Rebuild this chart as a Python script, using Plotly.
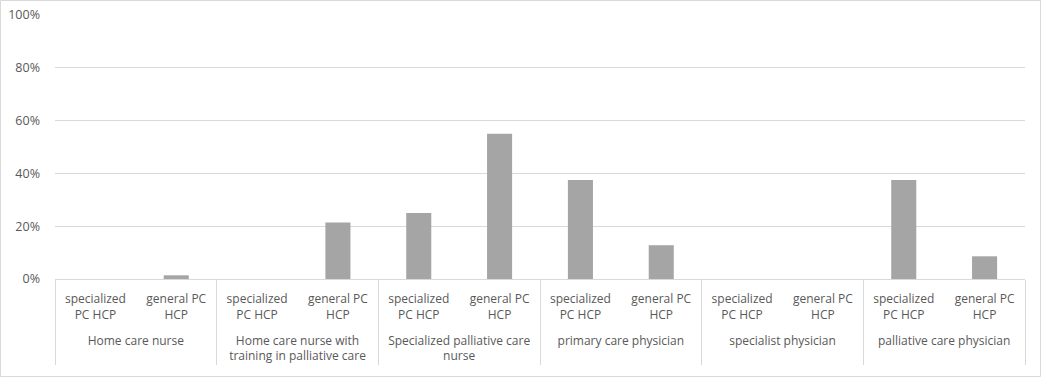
import plotly.graph_objects as go

groups = ["<br>Home care nurse", "<br>Home care nurse with<br>training in palliative care",
          "<br>Specialized palliative care<br>nurse", "<br>primary care physician",
          "<br>specialist physician", "<br>palliative care physician"]
subcats = ["specialized<br>PC HCP", "general PC<br>HCP"]
specialized = [0.0, 0.0, 0.25, 0.375, 0.0, 0.375]
general = [0.014, 0.214, 0.55, 0.128, 0.0, 0.086]

outer, inner, vals = [], [], []
for g, s, ge in zip(groups, specialized, general):
    outer += [g, g]
    inner += subcats
    vals += [s, ge]

W, H = 1041, 377
ml, mr, mt, mb = 55, 16, 15, 98
pw, ph = W - ml - mr, H - mt - mb

fig = go.Figure(go.Bar(x=[outer, inner], y=vals, marker_color="#A5A5A5",
                       marker_line_width=0))

def px_to_paper_x(p):
    return (p - ml) / pw

def px_to_paper_y(p):
    return (H - mb - p) / ph

fig.update_layout(
    width=W, height=H,
    margin=dict(l=ml, r=mr, t=mt, b=mb, autoexpand=False),
    plot_bgcolor="white", paper_bgcolor="white",
    bargap=0.69,
    showlegend=False,
    font=dict(family="Open Sans", size=12, color="#595959"),
    yaxis=dict(range=[0, 1], tickvals=[0, 0.2, 0.4, 0.6, 0.8, 1.0],
               tickformat=".0%", gridcolor="#D9D9D9", gridwidth=1,
               zeroline=False, showline=False, ticks="", ticklabelstandoff=14,
               automargin=False,
               tickfont=dict(size=12.5, color="#595959")),
    xaxis=dict(type="multicategory", showline=True, linecolor="#D9D9D9",
               linewidth=1, showdividers=True, dividercolor="#D9D9D9",
               dividerwidth=1, ticks="", automargin=False, ticklabelstandoff=9,
               tickfont=dict(size=12, color="#595959")),
    shapes=[dict(type="rect", xref="paper", yref="paper",
                 x0=px_to_paper_x(0.5), x1=px_to_paper_x(W - 0.5),
                 y0=px_to_paper_y(H - 0.5), y1=px_to_paper_y(0.5),
                 line=dict(color="#D9D9D9", width=1), layer="below")],
)

fig.write_html("out.html", config={"displayModeBar": False},
               post_script="document.body.style.margin='0';")
